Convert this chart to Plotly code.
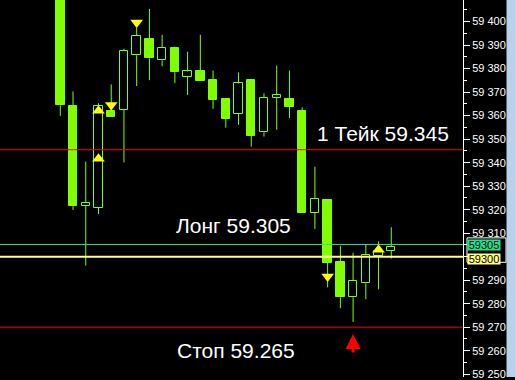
import plotly.graph_objects as go

# ---- data ----
opens  = [59.4250, 59.3640, 59.3215, 59.3207, 59.3619, 59.3626, 59.3857, 59.3927, 59.3835,
          59.3889, 59.3764, 59.3788, 59.3750, 59.3670, 59.3609, 59.3750, 59.3529, 59.3677,
          59.3670, 59.3619, 59.3186, 59.3239, 59.2978, 59.2827, 59.2886, 59.3004, 59.3025]
highs  = [59.4300, 59.3703, 59.3404, 59.3653, 59.3733, 59.3885, 59.3975, 59.4054, 59.3944,
          59.3893, 59.3872, 59.3944, 59.3792, 59.3674, 59.3784, 59.3754, 59.3695, 59.3813,
          59.3792, 59.3635, 59.3383, 59.3242, 59.3046, 59.3016, 59.3054, 59.3065, 59.3125]
lows   = [59.3599, 59.3198, 59.2962, 59.3181, 59.3595, 59.3401, 59.3726, 59.3751, 59.3810,
          59.3738, 59.3688, 59.3747, 59.3629, 59.3549, 59.3561, 59.3468, 59.3511, 59.3540,
          59.3590, 59.3186, 59.3118, 59.2869, 59.2781, 59.2722, 59.2819, 59.2861, 59.2992]
closes = [59.3644, 59.3215, 59.3230, 59.3640, 59.3595, 59.3876, 59.3940, 59.3844, 59.3888,
          59.3785, 59.3788, 59.3747, 59.3667, 59.3586, 59.3737, 59.3515, 59.3677, 59.3687,
          59.3637, 59.3186, 59.3246, 59.2973, 59.2827, 59.2896, 59.3006, 59.3023, 59.3041]

up_arrow_idx = [3, 3, 25]
up_arrow_price = [59.3621, 59.3417, 59.3029]
down_arrow_idx = [4, 6, 21]
down_arrow_price = [59.3645, 59.3996, 59.2916]
signal_idx = [23]
signal_price = [59.2671]

take_level = 59.3455
stop_level = 59.2700
bid_level = 59.3052
long_level = 59.3000

text_labels = ["1 Тейк 59.345", "Лонг 59.305", "Стоп 59.265"]
text_x = [19.98, 8.92, 9.0]
text_y = [59.3526, 59.3132, 59.2602]

tick_values = [59.250, 59.260, 59.270, 59.280, 59.290, 59.300, 59.310, 59.320, 59.330,
               59.340, 59.350, 59.360, 59.370, 59.380, 59.390, 59.400]
tick_labels = ["59 250", "59 260", "59 270", "59 280", "59 290", "59 300", "59 310", "59 320",
               "59 330", "59 340", "59 350", "59 360", "59 370", "59 380", "59 390", "59 400"]
hidden_tick_labels = ["59 300"]  # covered by the price boxes in the reference
top_tick_value = 59.410
top_tick_label = "59 410"
minor_values = [59.255, 59.265, 59.275, 59.285, 59.295, 59.305, 59.315, 59.325, 59.335,
                59.345, 59.355, 59.365, 59.375, 59.385, 59.395, 59.405]
price_box_labels = ["59305", "59300"]

LIME = "#80FF00"
FONT = "Liberation Sans, Arial"
idx = list(range(len(opens)))

fig = go.Figure()

# wicks (split so they do not cross hollow bodies)
wx, wy = [], []
for i, o, h, l, c in zip(idx, opens, highs, lows, closes):
    top, bot = max(o, c), min(o, c)
    if h > top:
        wx += [i, i, None]; wy += [top, h, None]
    if l < bot:
        wx += [i, i, None]; wy += [bot, l, None]
fig.add_trace(go.Scatter(x=wx, y=wy, mode="lines", line=dict(color=LIME, width=1),
                         hoverinfo="skip"))

# bodies
fig.add_trace(go.Bar(
    x=idx,
    y=[abs(c - o) for o, c in zip(opens, closes)],
    base=[min(o, c) for o, c in zip(opens, closes)],
    width=0.66,
    marker=dict(color=[LIME if c < o else "black" for o, c in zip(opens, closes)],
                line=dict(color=LIME, width=1)),
))

# yellow arrows
fig.add_trace(go.Scatter(x=up_arrow_idx, y=up_arrow_price, mode="markers",
                         marker=dict(symbol="triangle-up", size=11, color="#FFFF00",
                                     line=dict(width=0))))
fig.add_trace(go.Scatter(x=down_arrow_idx, y=down_arrow_price, mode="markers",
                         marker=dict(symbol="triangle-down", size=11, color="#FFFF00",
                                     line=dict(width=0))))

shapes = [
    dict(type="line", xref="paper", x0=0, x1=1, yref="y", y0=take_level, y1=take_level,
         line=dict(color="#FF0000", width=1), layer="above"),
    dict(type="line", xref="paper", x0=0, x1=1, yref="y", y0=stop_level, y1=stop_level,
         line=dict(color="#FF0000", width=1), layer="above"),
    dict(type="line", xref="paper", x0=0, x1=1, yref="y", y0=bid_level, y1=bid_level,
         line=dict(color="#30E08C", width=1), layer="above"),
    dict(type="line", xref="paper", x0=0, x1=1, yref="y", y0=long_level, y1=long_level,
         line=dict(color="#FFFF90", width=2), layer="above"),
    # right scrollbar strip
    dict(type="rect", xref="paper", x0=1 + 43.5 / 463, x1=1 + 60 / 463, yref="paper", y0=0, y1=1,
         fillcolor="#B9D1EA", line=dict(width=0), layer="above"),
    # white frame around price boxes
    dict(type="rect", xref="paper", x0=1 + 4 / 463, x1=1 + 43 / 463, yref="y",
         y0=long_level - 0.0024, y1=bid_level + 0.0028,
         line=dict(color="white", width=1), fillcolor="rgba(0,0,0,0)", layer="above"),
]

annotations = []
for t, x, y in zip(text_labels, text_x, text_y):
    annotations.append(dict(x=x, y=y, xref="x", yref="y", text=t, showarrow=False,
                            xanchor="left", yanchor="middle",
                            font=dict(family=FONT, size=21, color="white")))

for lab, lvl, bg, ys in zip(price_box_labels, [bid_level, long_level],
                            ["#1EE38C", "#FFFF80"], [-0.5, -2]):
    annotations.append(dict(x=1, y=lvl, xref="paper", yref="y", text=lab, showarrow=False,
                            xanchor="left", yanchor="middle", xshift=4, yshift=ys,
                            width=32, height=10, align="center", valign="middle",
                            bgcolor=bg, borderpad=0,
                            font=dict(family=FONT, size=11, color="black")))

# partially visible top tick label
annotations.append(dict(x=1, y=top_tick_value, xref="paper", yref="y", text=top_tick_label,
                        showarrow=False, xanchor="left", yanchor="middle", xshift=6,
                        font=dict(family=FONT, size=11, color="white")))

# red signal arrow
for xi, yp in zip(signal_idx, signal_price):
    annotations.append(dict(x=xi, y=yp, xref="x", yref="y", text="", showarrow=True,
                            arrowhead=2, arrowsize=1, arrowwidth=3, arrowcolor="#FF0000",
                            ax=0, ay=20))

spacing = 12.73
x0 = -60.3 / spacing
x1 = x0 + 463 / spacing

shown_labels = ["" if t in hidden_tick_labels else t for t in tick_labels]

fig.update_layout(
    width=515, height=380,
    margin=dict(l=0, r=52, t=0, b=0),
    paper_bgcolor="black", plot_bgcolor="black",
    showlegend=False,
    shapes=shapes, annotations=annotations,
    bargap=0,
    xaxis=dict(range=[x0, x1], visible=False, fixedrange=True),
    yaxis=dict(range=[59.2488, 59.4092], side="right", showgrid=False, zeroline=False,
               showline=True, linecolor="white", linewidth=1,
               tickmode="array", tickvals=tick_values, ticktext=shown_labels,
               ticks="outside", ticklen=6, tickcolor="white", tickwidth=1,
               ticklabeloverflow="allow",
               tickfont=dict(family=FONT, size=11, color="white"),
               minor=dict(tickmode="array", tickvals=minor_values, ticks="outside",
                          ticklen=3, tickcolor="white", tickwidth=1, showgrid=False)),
)

fig.write_html("out.html")
